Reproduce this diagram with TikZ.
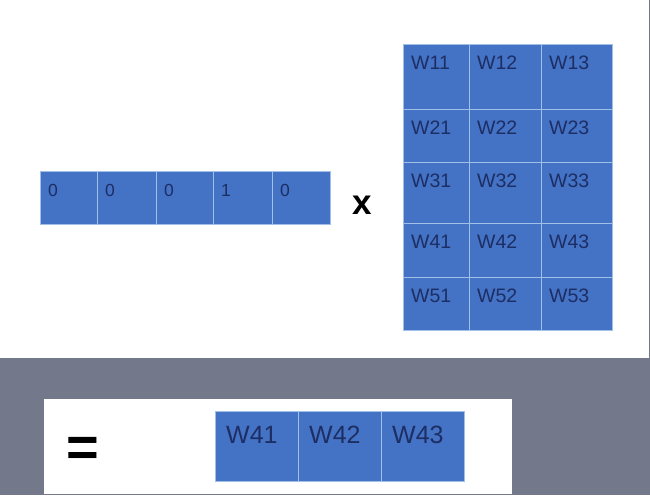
\documentclass[tikz,border=0pt]{standalone}
\usepackage{fontspec}
\setmainfont{Liberation Sans}
\definecolor{cellblue}{RGB}{68,114,196}
\definecolor{cellline}{RGB}{160,192,232}
\definecolor{celltext}{RGB}{28,46,100}
\definecolor{bggray}{RGB}{115,121,138}
\begin{document}
\begin{tikzpicture}[x=1pt,y=-1pt,
  cell/.style={rectangle,anchor=north west,inner sep=0pt,fill=cellblue,draw=cellline,line width=1.3pt},
  vlbl/.style={anchor=north west,inner sep=0pt,text=celltext,font=\fontsize{17.5}{17.5}\selectfont,xshift=8pt,yshift=-13pt},
  mlbl/.style={anchor=north west,inner sep=0pt,text=celltext,font=\fontsize{19.5}{19.5}\selectfont,xshift=8pt,yshift=-11.5pt},
  rlbl/.style={anchor=north west,inner sep=0pt,text=celltext,font=\fontsize{25}{25}\selectfont,xshift=11pt,yshift=-15pt}]
\useasboundingbox (0,0) rectangle (650,495);
\fill[bggray] (0,0) rectangle (650,495);
\fill[white] (0,0) rectangle (649,358);
\fill[white] (44,399) rectangle (512,493.5);
% vector
\foreach \xa/\xb/\v/\n in {40/97/0/1,97/156/0/2,156/213/0/3,213/272/1/4,272/330/0/5}{
  \node[cell,minimum width={\xb-\xa},minimum height=53,
        label={[vlbl]north west:\v}] (v\n) at (\xa,171) {};
}
\node[inner sep=0pt,font=\fontsize{35}{35}\selectfont\bfseries] (times) at (362,205) {x};
% matrix
\foreach \ya/\yb/\r in {44/109/1,109/162/2,162/223/3,223/277/4,277/330/5}{
  \foreach \xa/\xb/\c in {403/469/1,469/541/2,541/612/3}{
    \node[cell,minimum width={\xb-\xa},minimum height={\yb-\ya},
          label={[mlbl]north west:W\r\c}] (w\r\c) at (\xa,\ya) {};
  }
}
% result
\node[inner sep=0pt,font=\fontsize{56}{56}\selectfont\bfseries] (eq) at (83,452) {=};
\foreach \xa/\xb/\c in {215/298/1,298/381/2,381/464/3}{
  \node[cell,minimum width={\xb-\xa},minimum height=70,
        label={[rlbl]north west:W4\c}] (r\c) at (\xa,411) {};
}
\end{tikzpicture}
\end{document}
